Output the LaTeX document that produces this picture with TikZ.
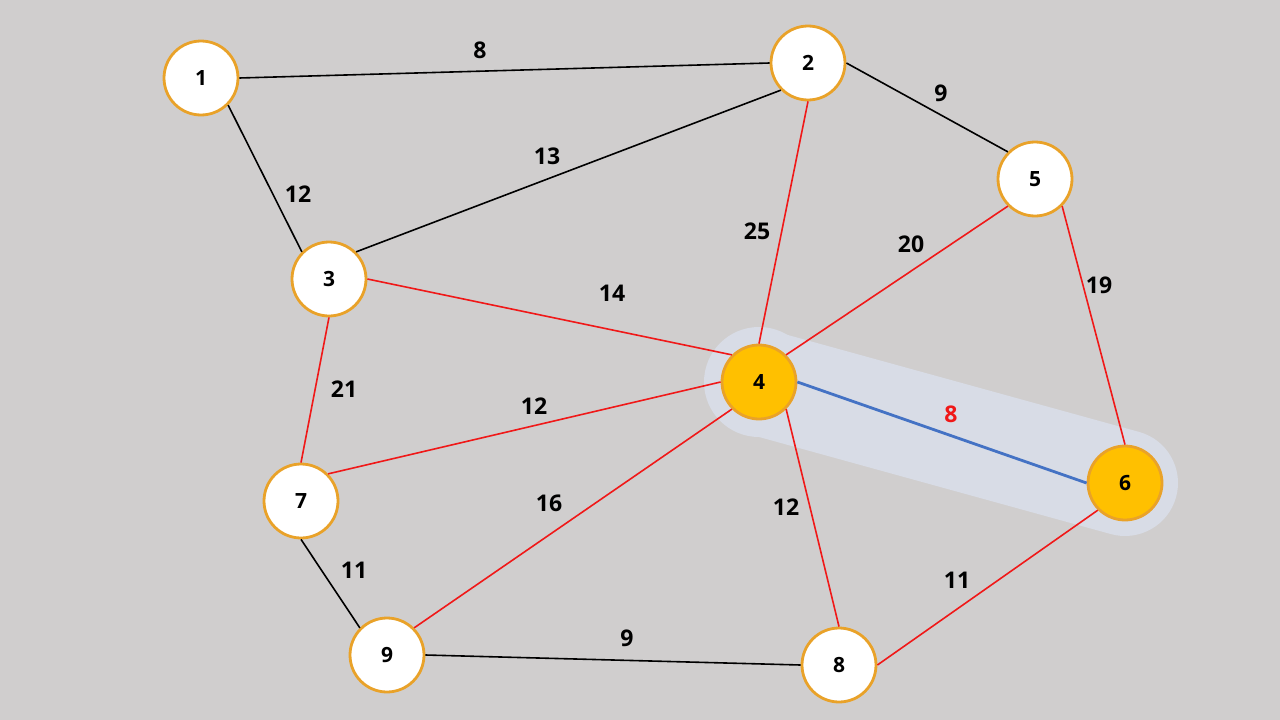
\documentclass[tikz,border=0pt]{standalone}
\usepackage{fontspec}
\setmainfont{Open Sans}
\definecolor{bg}{HTML}{D0CECE}
\definecolor{ring}{HTML}{E9A229}
\definecolor{gold}{HTML}{FFC000}
\definecolor{redline}{HTML}{F01818}
\definecolor{blueline}{HTML}{4472C4}
\definecolor{band}{HTML}{D8DCE6}
\tikzset{
  vtx/.style={circle, draw=ring, line width=2.8pt, fill=white, minimum size=74pt, inner sep=0pt, font=\fontsize{21}{23}\selectfont\bfseries},
  vtxon/.style={vtx, fill=gold},
  blk/.style={draw=black, line width=1.6pt},
  red/.style={draw=redline, line width=1.6pt},
  blu/.style={draw=blueline, line width=2.8pt},
  wt/.style={font=\fontsize{23}{25}\selectfont\bfseries, inner sep=0pt},
}
\begin{document}
\begin{tikzpicture}[x=1pt,y=-1pt]
\useasboundingbox[fill=bg] (0,0) rectangle (1280,720);
\coordinate (c4) at (759,382);
\coordinate (c6) at (1125,483);
\fill[band] (c4) circle[radius=55];
\draw[band, line width=106pt, line cap=round] (c4) -- (c6);
\node[vtx] (n1) at (201,78) {1};
\node[vtx] (n2) at (808,63) {2};
\node[vtx] (n3) at (329,279) {3};
\node[vtxon] (n4) at (c4) {4};
\node[vtx] (n5) at (1035,179) {5};
\node[vtxon] (n6) at (c6) {6};
\node[vtx] (n7) at (301,501) {7};
\node[vtx] (n8) at (839,665) {8};
\node[vtx] (n9) at (387,655) {9};
\draw[blk] (n1.east) -- (n2.west);
\draw[blk] (n2.east) -- (n5.north west);
\draw[blk] (n1.south east) -- (n3.north west);
\draw[blk] (n3.north east) -- (n2.south west);
\draw[blk] (n7.south) -- (n9.north west);
\draw[blk] (n9.east) -- (n8.west);
\draw[red] (n2.south) -- (n4.north);
\draw[red] (n3.east) -- (n4.north west);
\draw[red] (n5.south west) -- (n4.north east);
\draw[red] (n5.south east) -- (n6.north);
\draw[red] (n3.south) -- (n7.north);
\draw[red] (n7.north east) -- (n4.west);
\draw[red] (n9.north east) -- (n4.south west);
\draw[red] (n4.south east) -- (n8.north);
\draw[red] (n8.east) -- (n6.south west);
\draw[blu] (n4.east) -- (n6.west);
\node[wt] (w12) at (480,50) {8};
\node[wt] (w25a) at (941,93) {9};
\node[wt] (w13a) at (298,194) {12};
\node[wt] (w23) at (547,156) {13};
\node[wt] (w24) at (757,231) {25};
\node[wt] (w54) at (911,244) {20};
\node[wt] (w56) at (1099,285) {19};
\node[wt] (w34) at (612,293) {14};
\node[wt] (w37) at (344,389) {21};
\node[wt] (w74) at (534,406) {12};
\node[wt, text=redline] (w46) at (951,414) {8};
\node[wt] (w94) at (549,503) {16};
\node[wt] (w48) at (786,507) {12};
\node[wt] (w86) at (957,580) {11};
\node[wt] (w79) at (354,570) {11};
\node[wt] (w98) at (627,638) {9};
\end{tikzpicture}
\end{document}
